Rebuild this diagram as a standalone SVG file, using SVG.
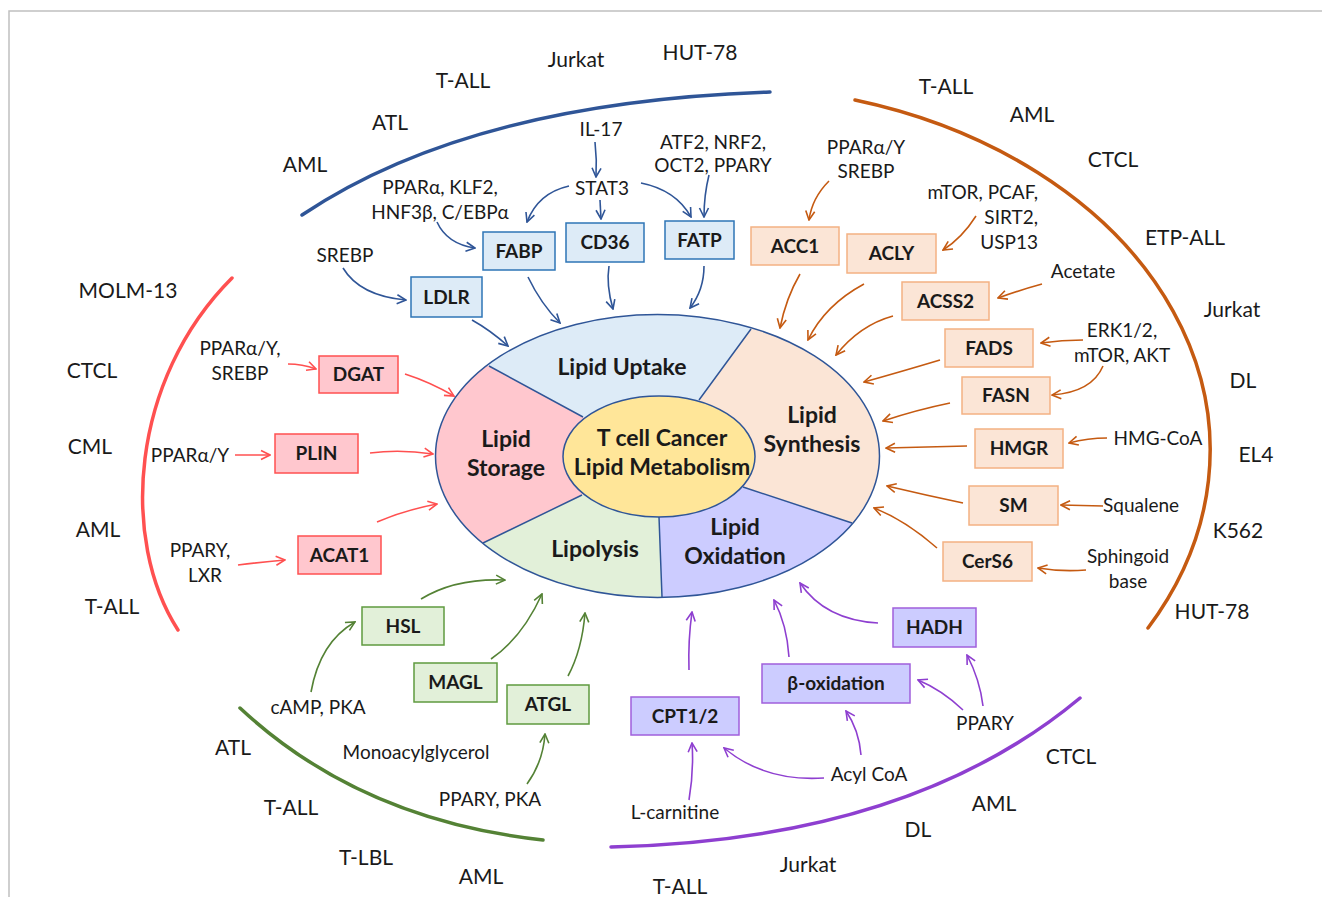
<svg xmlns="http://www.w3.org/2000/svg" width="1322" height="897" viewBox="0 0 1322 897">
<defs>
<style>
text{font-family:Lato,"Liberation Sans",sans-serif;fill:#1a1a1a;text-anchor:middle}
.l{font-size:19px}
.c{font-size:21px}
.b{font-size:19px;font-weight:bold}
.s{font-size:23px;font-weight:bold}
.ab{fill:none;stroke:#2f5597;stroke-width:1.6}
.ao{fill:none;stroke:#c55a11;stroke-width:1.6}
.ar{fill:none;stroke:#ff5050;stroke-width:1.6}
.ag{fill:none;stroke:#548235;stroke-width:1.6}
.ap{fill:none;stroke:#8e3fd0;stroke-width:1.6}
.bb{fill:#ddebf7;stroke:#2e75b6;stroke-width:1.5}
.bo{fill:#fbe5d6;stroke:#f4b183;stroke-width:1.5}
.br{fill:#ffc7ce;stroke:#ff5050;stroke-width:1.5}
.bg{fill:#e2f0d9;stroke:#5f9a3f;stroke-width:1.5}
.bp{fill:#ccccff;stroke:#a05fdc;stroke-width:1.5}
.arc{fill:none;stroke-width:3.5;stroke-linecap:round}
</style>
<marker id="mb" viewBox="0 0 12 12" refX="11" refY="6" markerWidth="12" markerHeight="12" markerUnits="userSpaceOnUse" orient="auto"><path d="M2,1.5 L11,6 L2,10.5" fill="none" stroke="#2f5597" stroke-width="1.6"/></marker>
<marker id="mo" viewBox="0 0 12 12" refX="11" refY="6" markerWidth="12" markerHeight="12" markerUnits="userSpaceOnUse" orient="auto"><path d="M2,1.5 L11,6 L2,10.5" fill="none" stroke="#c55a11" stroke-width="1.6"/></marker>
<marker id="mr" viewBox="0 0 12 12" refX="11" refY="6" markerWidth="12" markerHeight="12" markerUnits="userSpaceOnUse" orient="auto"><path d="M2,1.5 L11,6 L2,10.5" fill="none" stroke="#ff5050" stroke-width="1.6"/></marker>
<marker id="mg" viewBox="0 0 12 12" refX="11" refY="6" markerWidth="12" markerHeight="12" markerUnits="userSpaceOnUse" orient="auto"><path d="M2,1.5 L11,6 L2,10.5" fill="none" stroke="#548235" stroke-width="1.6"/></marker>
<marker id="mp" viewBox="0 0 12 12" refX="11" refY="6" markerWidth="12" markerHeight="12" markerUnits="userSpaceOnUse" orient="auto"><path d="M2,1.5 L11,6 L2,10.5" fill="none" stroke="#8e3fd0" stroke-width="1.6"/></marker>
<clipPath id="oc"><ellipse cx="657.5" cy="456" rx="222" ry="141.5"/></clipPath>
</defs>
<rect width="1322" height="897" fill="#fff"/>
<path d="M9,897 L9,11 L1322,11" fill="none" stroke="#c0c0c0" stroke-width="1.5"/>

<g id="outer-arcs">
<path class="arc" stroke="#2f5597" d="M302,215 Q470,102 770,92"/>
<path class="arc" stroke="#c55a11" d="M855,100 A488,364 0 0 1 1148,628"/>
<path class="arc" stroke="#ff5050" d="M232,278 C130,380 120,540 178,630"/>
<path class="arc" stroke="#548235" d="M240,708 Q360,820 543,840"/>
<path class="arc" stroke="#8e3fd0" d="M611,847 Q910,840 1080,698"/>
</g>

<g id="core">
<g clip-path="url(#oc)">
<path id="sec-uptake" fill="#ddebf7" d="M659,456 L583,417 L395,315 L395,200 L803,200 L803,258 L699,400 Z"/>
<path id="sec-synthesis" fill="#fbe5d6" d="M659,456 L699,400 L803,258 L1000,258 L1000,559 L961,559 L743,487 Z"/>
<path id="sec-oxidation" fill="#ccccff" d="M659,456 L743,487 L961,559 L961,700 L665,700 L665,677 L659,517 Z"/>
<path id="sec-lipolysis" fill="#e2f0d9" d="M659,456 L659,517 L665,677 L665,700 L384,700 L384,591 L582,495 Z"/>
<path id="sec-storage" fill="#ffc7ce" d="M659,456 L582,495 L384,591 L300,591 L300,315 L395,315 L583,417 Z"/>
</g>
<g fill="none" stroke="#2f5597" stroke-width="1.5">
<path d="M583,417 L489,366 M699,400 L751,329 M743,487 L852,523 M659,517 L662,597 M582,495 L483,543"/>
<ellipse cx="657.5" cy="456" rx="222" ry="141.5"/>
</g>
<ellipse cx="659" cy="456.5" rx="96" ry="60.5" fill="#ffe699" stroke="#2f5597" stroke-width="1.5"/>
<text class="s" x="622" y="375">Lipid Uptake</text>
<text class="s" x="506" y="447">Lipid</text>
<text class="s" x="506" y="476">Storage</text>
<text class="s" x="662" y="446">T cell Cancer</text>
<text class="s" x="662" y="475">Lipid Metabolism</text>
<text class="s" x="812" y="423">Lipid</text>
<text class="s" x="812" y="452">Synthesis</text>
<text class="s" x="595" y="557">Lipolysis</text>
<text class="s" x="735" y="535">Lipid</text>
<text class="s" x="735" y="564">Oxidation</text>
</g>

<g id="connectors">
<g marker-end="url(#mb)">
<path class="ab" d="M595,142 Q597,160 596,177"/>
<path class="ab" d="M569,186 Q538,193 527,222"/>
<path class="ab" d="M600,200 L601,219"/>
<path class="ab" d="M641,183 Q676,190 691,217"/>
<path class="ab" d="M709,175 Q704,195 704,217"/>
<path class="ab" d="M437,222 Q447,244 475,248"/>
<path class="ab" d="M343,268 Q360,296 406,300"/>
<path class="ab" d="M528,277 Q541,304 560,323"/>
<path class="ab" d="M609,266 Q606,285 613,309"/>
<path class="ab" d="M704,266 Q704,290 690,308"/>
<path class="ab" d="M472,320 Q490,330 508,346"/>
</g>
<g marker-end="url(#mo)">
<path class="ao" d="M829,181 Q812,198 809,220"/>
<path class="ao" d="M976,216 Q962,238 943,250"/>
<path class="ao" d="M1042,284 Q1020,290 998,298"/>
<path class="ao" d="M1083,340 Q1062,340 1041,343"/>
<path class="ao" d="M1103,366 Q1092,392 1052,395"/>
<path class="ao" d="M1107,438 Q1088,438 1069,443"/>
<path class="ao" d="M1103,506 L1061,505"/>
<path class="ao" d="M1086,570 Q1062,572 1038,568"/>
<path class="ao" d="M800,274 Q786,298 780,328"/>
<path class="ao" d="M864,284 Q825,305 808,340"/>
<path class="ao" d="M893,316 Q860,325 836,355"/>
<path class="ao" d="M940,360 Q900,372 864,382"/>
<path class="ao" d="M950,403 Q916,410 883,421"/>
<path class="ao" d="M967,446 Q926,447 886,448"/>
<path class="ao" d="M963,503 Q925,495 887,486"/>
<path class="ao" d="M937,548 Q905,520 874,508"/>
</g>
<g marker-end="url(#mr)">
<path class="ar" d="M288,364 Q302,364 316,369"/>
<path class="ar" d="M235,455 L270,455"/>
<path class="ar" d="M238,565 Q262,562 285,560"/>
<path class="ar" d="M405,374 Q430,382 454,396"/>
<path class="ar" d="M370,453 Q400,449 433,454"/>
<path class="ar" d="M377,522 Q405,510 437,504"/>
</g>
<g marker-end="url(#mg)">
<path class="ag" d="M311,692 Q320,642 355,622"/>
<path class="ag" d="M421,599 Q455,578 505,580"/>
<path class="ag" d="M491,659 Q522,638 542,594"/>
<path class="ag" d="M568,676 Q582,650 585,613"/>
<path class="ag" d="M527,784 Q543,762 545,734"/>
</g>
<g marker-end="url(#mp)">
<path class="ap" d="M689,800 Q694,770 692,743"/>
<path class="ap" d="M824,778 Q765,782 724,748"/>
<path class="ap" d="M861,755 Q859,730 846,711"/>
<path class="ap" d="M963,710 Q942,690 918,680"/>
<path class="ap" d="M983,706 Q980,680 967,655"/>
<path class="ap" d="M689,670 Q688,640 692,612"/>
<path class="ap" d="M789,657 Q787,625 774,600"/>
<path class="ap" d="M878,623 Q825,620 800,583"/>
</g>
</g>

<g id="uptake-nodes">
<g id="FABP"><rect class="bb" x="483" y="232" width="72" height="38"/><text class="b" x="519" y="258">FABP</text></g>
<g id="CD36"><rect class="bb" x="566" y="223" width="78" height="39"/><text class="b" x="605" y="249">CD36</text></g>
<g id="FATP"><rect class="bb" x="665" y="221" width="69" height="38"/><text class="b" x="699.5" y="247">FATP</text></g>
<g id="LDLR"><rect class="bb" x="411" y="277" width="71" height="40"/><text class="b" x="446.5" y="304">LDLR</text></g>
<g id="uptake-labels">
<text class="l" x="601" y="136">IL-17</text>
<text class="l" x="602" y="195">STAT3</text>
<text class="l" x="713" y="149">ATF2, NRF2,</text>
<text class="l" x="713" y="172">OCT2, PPARY</text>
<text class="l" x="440" y="194">PPARα, KLF2,</text>
<text class="l" x="440" y="219">HNF3β, C/EBPα</text>
<text class="l" x="345" y="262">SREBP</text>
</g>
</g>

<g id="synthesis-nodes">
<g id="ACC1"><rect class="bo" x="751" y="227" width="88" height="38"/><text class="b" x="795" y="253">ACC1</text></g>
<g id="ACLY"><rect class="bo" x="847" y="234" width="89" height="39"/><text class="b" x="891.5" y="260">ACLY</text></g>
<g id="ACSS2"><rect class="bo" x="902" y="282" width="87" height="38"/><text class="b" x="945.5" y="308">ACSS2</text></g>
<g id="FADS"><rect class="bo" x="945" y="329" width="88" height="38"/><text class="b" x="989" y="355">FADS</text></g>
<g id="FASN"><rect class="bo" x="962" y="377" width="88" height="37"/><text class="b" x="1006" y="402">FASN</text></g>
<g id="HMGR"><rect class="bo" x="975" y="429" width="88" height="39"/><text class="b" x="1019" y="455">HMGR</text></g>
<g id="SM"><rect class="bo" x="969" y="486" width="89" height="39"/><text class="b" x="1013.5" y="512">SM</text></g>
<g id="CerS6"><rect class="bo" x="943" y="542" width="89" height="39"/><text class="b" x="987.5" y="568">CerS6</text></g>
<g id="synthesis-labels">
<text class="l" x="866" y="154">PPARα/Y</text>
<text class="l" x="866" y="178">SREBP</text>
<text class="l" x="1038" y="199" style="text-anchor:end">mTOR, PCAF,</text>
<text class="l" x="1038" y="224" style="text-anchor:end">SIRT2,</text>
<text class="l" x="1038" y="249" style="text-anchor:end">USP13</text>
<text class="l" x="1083" y="278">Acetate</text>
<text class="l" x="1122" y="337">ERK1/2,</text>
<text class="l" x="1122" y="362">mTOR, AKT</text>
<text class="l" x="1158" y="445">HMG-CoA</text>
<text class="l" x="1103" y="512" style="text-anchor:start">Squalene</text>
<text class="l" x="1128" y="563">Sphingoid</text>
<text class="l" x="1128" y="588">base</text>
</g>
</g>

<g id="storage-nodes">
<g id="DGAT"><rect class="br" x="319" y="356" width="79" height="37"/><text class="b" x="358.5" y="381">DGAT</text></g>
<g id="PLIN"><rect class="br" x="275" y="434" width="83" height="39"/><text class="b" x="316.5" y="460">PLIN</text></g>
<g id="ACAT1"><rect class="br" x="298" y="536" width="83" height="38"/><text class="b" x="339.5" y="562">ACAT1</text></g>
<g id="storage-labels">
<text class="l" x="240" y="355">PPARα/Y,</text>
<text class="l" x="240" y="380">SREBP</text>
<text class="l" x="190" y="462">PPARα/Y</text>
<text class="l" x="200" y="557">PPARY,</text>
<text class="l" x="205" y="582">LXR</text>
</g>
</g>

<g id="lipolysis-nodes">
<g id="HSL"><rect class="bg" x="362" y="607" width="82" height="38"/><text class="b" x="403" y="633">HSL</text></g>
<g id="MAGL"><rect class="bg" x="414" y="663" width="83" height="39"/><text class="b" x="455.5" y="689">MAGL</text></g>
<g id="ATGL"><rect class="bg" x="507" y="685" width="82" height="39"/><text class="b" x="548" y="711">ATGL</text></g>
<g id="lipolysis-labels">
<text class="l" x="318" y="714">cAMP, PKA</text>
<text class="l" x="416" y="759">Monoacylglycerol</text>
<text class="l" x="490" y="806">PPARY, PKA</text>
</g>
</g>

<g id="oxidation-nodes">
<g id="HADH"><rect class="bp" x="893" y="608" width="83" height="39"/><text class="b" x="934.5" y="634">HADH</text></g>
<g id="beta-oxidation"><rect class="bp" x="762" y="664" width="148" height="39"/><text class="b" x="836" y="690">β-oxidation</text></g>
<g id="CPT1-2"><rect class="bp" x="631" y="697" width="108" height="38"/><text class="b" x="685" y="723">CPT1/2</text></g>
<g id="oxidation-labels">
<text class="l" x="985" y="730">PPARY</text>
<text class="l" x="869" y="781">Acyl CoA</text>
<text class="l" x="675" y="819">L-carnitine</text>
</g>
</g>

<g id="cell-lines">
<text class="c" x="700" y="60">HUT-78</text>
<text class="c" x="576" y="67">Jurkat</text>
<text class="c" x="463" y="88">T-ALL</text>
<text class="c" x="390" y="130">ATL</text>
<text class="c" x="305" y="172">AML</text>
<text class="c" x="946" y="94">T-ALL</text>
<text class="c" x="1032" y="122">AML</text>
<text class="c" x="1113" y="167">CTCL</text>
<text class="c" x="1185" y="245">ETP-ALL</text>
<text class="c" x="1232" y="317">Jurkat</text>
<text class="c" x="1243" y="388">DL</text>
<text class="c" x="1256" y="462">EL4</text>
<text class="c" x="1238" y="538">K562</text>
<text class="c" x="1212" y="619">HUT-78</text>
<text class="c" x="128" y="298">MOLM-13</text>
<text class="c" x="92" y="378">CTCL</text>
<text class="c" x="90" y="454">CML</text>
<text class="c" x="98" y="537">AML</text>
<text class="c" x="112" y="614">T-ALL</text>
<text class="c" x="233" y="755">ATL</text>
<text class="c" x="291" y="815">T-ALL</text>
<text class="c" x="366" y="865">T-LBL</text>
<text class="c" x="481" y="884">AML</text>
<text class="c" x="1071" y="764">CTCL</text>
<text class="c" x="994" y="811">AML</text>
<text class="c" x="918" y="837">DL</text>
<text class="c" x="808" y="872">Jurkat</text>
<text class="c" x="680" y="894">T-ALL</text>
</g>
</svg>
